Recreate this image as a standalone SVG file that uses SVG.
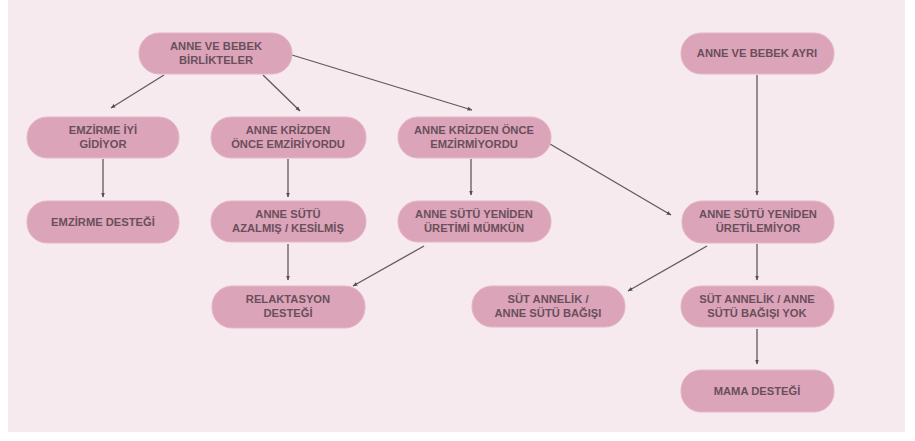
<svg xmlns="http://www.w3.org/2000/svg" width="915" height="441" viewBox="0 0 915 441">
<defs>
<marker id="ah" viewBox="0 0 10 10" refX="9" refY="5" markerWidth="5" markerHeight="5" orient="auto" markerUnits="userSpaceOnUse">
<path d="M0,1 L10,5 L0,9 Z" fill="#555055"/>
</marker>
<style>
.pill{fill:#dba4b9;stroke:#e4b6c7;stroke-width:1}
.t{font-family:"Liberation Sans",Arial,sans-serif;font-weight:bold;font-size:11.2px;fill:#6a4f5b;text-anchor:middle}
.c{stroke:#5e5a5d;stroke-width:1.3;fill:none;marker-end:url(#ah)}
</style>
</defs>
<rect x="0" y="0" width="915" height="441" fill="#ffffff"/>
<rect x="8" y="0" width="897" height="432" fill="#f6eaef"/>
<g id="connectors">
<line class="c" x1="164" y1="75" x2="111" y2="108"/>
<line class="c" x1="263" y1="75" x2="300" y2="111"/>
<line class="c" x1="292" y1="55" x2="472" y2="110"/>
<line class="c" x1="103" y1="159" x2="103" y2="197"/>
<line class="c" x1="288" y1="159" x2="288" y2="197"/>
<line class="c" x1="471" y1="159" x2="471" y2="195"/>
<line class="c" x1="550" y1="144" x2="671" y2="215"/>
<line class="c" x1="757" y1="75" x2="757" y2="195"/>
<line class="c" x1="288" y1="244" x2="288" y2="280"/>
<line class="c" x1="424" y1="246" x2="353" y2="286"/>
<line class="c" x1="707" y1="246" x2="628" y2="291"/>
<line class="c" x1="757" y1="244" x2="757" y2="280"/>
<line class="c" x1="757" y1="329" x2="757" y2="364"/>
</g>
<g id="n1"><rect class="pill" x="139" y="33" width="153" height="41" rx="20"/><text class="t" x="216" y="50">ANNE VE BEBEK</text><text class="t" x="216" y="64">BİRLİKTELER</text></g>
<g id="n2"><rect class="pill" x="27" y="117" width="152" height="41" rx="20"/><text class="t" x="103" y="134">EMZİRME İYİ</text><text class="t" x="103" y="148">GİDİYOR</text></g>
<g id="n3"><rect class="pill" x="27" y="201" width="152" height="42" rx="20"/><text class="t" x="103" y="226">EMZİRME DESTEĞİ</text></g>
<g id="n4"><rect class="pill" x="211" y="117" width="155" height="41" rx="20"/><text class="t" x="288" y="134">ANNE KRİZDEN</text><text class="t" x="288" y="148">ÖNCE EMZİRİYORDU</text></g>
<g id="n5"><rect class="pill" x="211" y="201" width="155" height="41" rx="20"/><text class="t" x="288" y="218">ANNE SÜTÜ</text><text class="t" x="288" y="232">AZALMIŞ / KESİLMİŞ</text></g>
<g id="n6"><rect class="pill" x="398" y="117" width="153" height="41" rx="20"/><text class="t" x="474" y="134">ANNE KRİZDEN ÖNCE</text><text class="t" x="474" y="148">EMZİRMİYORDU</text></g>
<g id="n7"><rect class="pill" x="398" y="201" width="153" height="41" rx="20"/><text class="t" x="474" y="218">ANNE SÜTÜ YENİDEN</text><text class="t" x="474" y="232">ÜRETİMİ MÜMKÜN</text></g>
<g id="n8"><rect class="pill" x="212" y="286" width="153" height="42" rx="20"/><text class="t" x="288" y="303">RELAKTASYON</text><text class="t" x="288" y="317">DESTEĞİ</text></g>
<g id="n9"><rect class="pill" x="472" y="286" width="153" height="41" rx="20"/><text class="t" x="548" y="303">SÜT ANNELİK /</text><text class="t" x="548" y="317">ANNE SÜTÜ BAĞIŞI</text></g>
<g id="n10"><rect class="pill" x="681" y="33" width="153" height="41" rx="20"/><text class="t" x="757" y="57">ANNE VE BEBEK AYRI</text></g>
<g id="n11"><rect class="pill" x="682" y="201" width="152" height="42" rx="20"/><text class="t" x="758" y="218">ANNE SÜTÜ YENİDEN</text><text class="t" x="758" y="232">ÜRETİLEMİYOR</text></g>
<g id="n12"><rect class="pill" x="681" y="286" width="153" height="41" rx="20"/><text class="t" x="757" y="303">SÜT ANNELİK / ANNE</text><text class="t" x="757" y="317">SÜTÜ BAĞIŞI YOK</text></g>
<g id="n13"><rect class="pill" x="681" y="370" width="153" height="42" rx="20"/><text class="t" x="757" y="395">MAMA DESTEĞİ</text></g>
</svg>
